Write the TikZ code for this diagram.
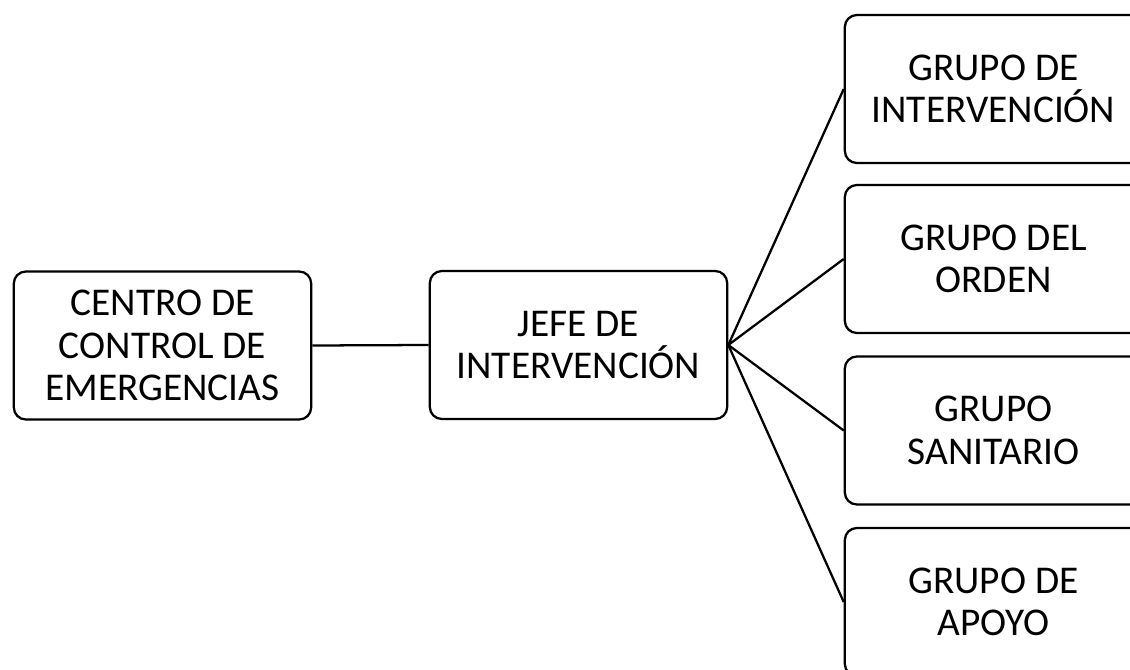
\documentclass[tikz,border=0pt]{standalone}
\usepackage{fontspec}
\setmainfont{Carlito}
\usetikzlibrary{positioning}

\tikzset{
  orgbox/.style={draw, line width=1.7pt, rounded corners=9pt, minimum width=223pt,
    minimum height=111pt, align=center, inner sep=0pt,
    font=\fontsize{29.5}{32}\selectfont},
  orgline/.style={line width=1.7pt}
}

\begin{document}
\begin{tikzpicture}[x=0.75pt,y=-0.75pt]
\useasboundingbox (0,0) rectangle (1130,670);
\clip (0,0) rectangle (1130,670);
% boxes
\node[orgbox] (centro) at (162.5,345.5) {CENTRO DE\\CONTROL DE\\EMERGENCIAS};
\node[orgbox] (jefe) at (578.5,345) {JEFE DE\\INTERVENCIÓN};
\node[orgbox] (gint) at (993.5,89) {GRUPO DE\\INTERVENCIÓN};
\node[orgbox] (gord) at (993.5,259) {GRUPO DEL\\ORDEN};
\node[orgbox] (gsan) at (993.5,430.5) {GRUPO\\SANITARIO};
\node[orgbox] (gapo) at (993.5,602) {GRUPO DE\\APOYO};
% connectors
\draw[orgline] (centro.east) -- (jefe.west);
\foreach \g in {gint,gord,gsan,gapo}
  \draw[orgline] (jefe.east) -- (\g.west);
\end{tikzpicture}
\end{document}
